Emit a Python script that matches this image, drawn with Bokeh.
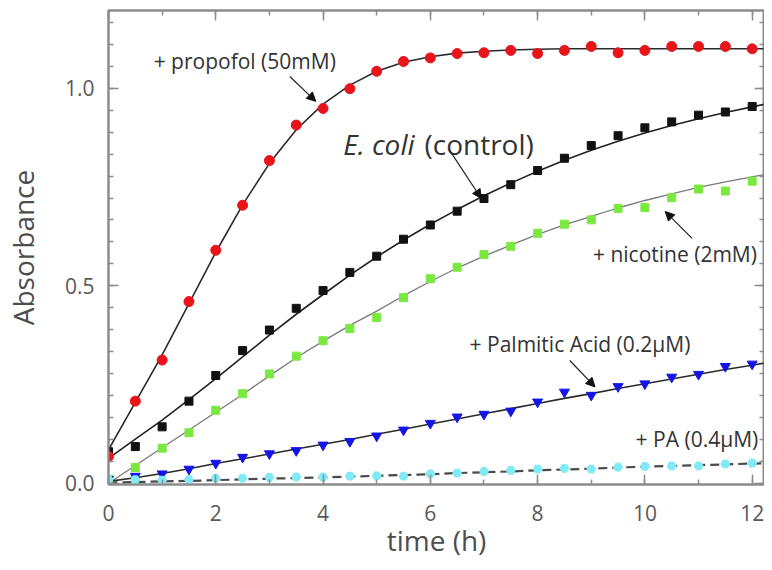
from bokeh.plotting import figure
from bokeh.models import (Range1d, LinearAxis, SingleIntervalTicker, PrintfTickFormatter,
                          CustomJSTickFormatter, Arrow, NormalHead, Label)
from bokeh.embed import file_html
from bokeh.resources import INLINE

# ---------------- data ----------------
time_h = [0, 0.5, 1, 1.5, 2, 2.5, 3, 3.5, 4, 4.5, 5, 5.5, 6, 6.5, 7, 7.5, 8, 8.5, 9, 9.5,
          10, 10.5, 11, 11.5, 12]

propofol = [0.068, 0.208, 0.312, 0.460, 0.590, 0.704, 0.817, 0.907, 0.949, 0.999, 1.043, 1.068,
            1.077, 1.088, 1.090, 1.096, 1.088, 1.096, 1.106, 1.090, 1.096, 1.106, 1.106, 1.106, 1.100]
control = [0.080, 0.093, 0.143, 0.208, 0.273, 0.336, 0.388, 0.443, 0.488, 0.534, 0.575, 0.618,
           0.654, 0.689, 0.721, 0.756, 0.792, 0.823, 0.855, 0.880, 0.900, 0.915, 0.932, 0.940, 0.954]
nicotine = [0.010, 0.040, 0.089, 0.128, 0.185, 0.227, 0.277, 0.322, 0.361, 0.392, 0.420, 0.470,
            0.518, 0.547, 0.579, 0.600, 0.633, 0.656, 0.667, 0.696, 0.698, 0.723, 0.745, 0.740, 0.765]
palmitic_02 = [0.010, 0.018, 0.024, 0.036, 0.051, 0.066, 0.075, 0.083, 0.097, 0.106, 0.120, 0.135,
               0.152, 0.168, 0.175, 0.183, 0.206, 0.231, 0.223, 0.245, 0.252, 0.269, 0.276, 0.296, 0.302]
pa_04 = [0.010, 0.009, 0.008, 0.009, 0.013, 0.013, 0.015, 0.016, 0.016, 0.018, 0.019, 0.018,
         0.024, 0.026, 0.030, 0.033, 0.036, 0.038, 0.036, 0.041, 0.043, 0.044, 0.044, 0.049, 0.051]

# fitted curves
fit_t = [0, 0.5, 1, 1.5, 2, 2.5, 3, 3.5, 4, 4.5, 5, 5.5, 6, 6.5, 7, 7.5, 8, 8.5, 9, 9.5,
         10, 10.5, 11, 11.5, 12, 12.25]
fit_propofol = [0.085, 0.205, 0.325, 0.455, 0.585, 0.705, 0.810, 0.895, 0.960, 1.008, 1.043, 1.066,
                1.080, 1.089, 1.094, 1.097, 1.099, 1.100, 1.100, 1.100, 1.100, 1.100, 1.100, 1.100,
                1.100, 1.100]
fit_control = [0.063, 0.112, 0.160, 0.212, 0.265, 0.320, 0.375, 0.428, 0.478, 0.527, 0.573, 0.616,
               0.656, 0.693, 0.728, 0.760, 0.790, 0.818, 0.843, 0.866, 0.887, 0.906, 0.923, 0.939,
               0.953, 0.960]
fit_nicotine = [0.000, 0.045, 0.090, 0.135, 0.180, 0.225, 0.272, 0.318, 0.360, 0.400, 0.436, 0.475,
                0.511, 0.545, 0.575, 0.603, 0.630, 0.654, 0.676, 0.697, 0.716, 0.733, 0.749, 0.763,
                0.776, 0.782]
fit_palmitic_02 = [0.005, 0.014, 0.025, 0.037, 0.050, 0.062, 0.074, 0.087, 0.099, 0.111, 0.124,
                   0.137, 0.150, 0.163, 0.176, 0.189, 0.202, 0.215, 0.227, 0.240, 0.252, 0.264,
                   0.276, 0.288, 0.299, 0.305]
fit_pa_04 = [0.002, 0.003, 0.005, 0.006, 0.008, 0.010, 0.012, 0.013, 0.015, 0.017, 0.019, 0.021,
             0.023, 0.026, 0.028, 0.030, 0.033, 0.035, 0.037, 0.040, 0.042, 0.044, 0.046, 0.048,
             0.050, 0.051]

x_label = "time (h)"
y_label = "Absorbance"

FONT = "Open Sans"
AXIS_GRAY = "#8c8c8c"
LABEL_GRAY = "#595959"
TITLE_GRAY = "#4d4d4d"
TEXT = "#333333"

p = figure(width=764, height=562, output_backend="svg", toolbar_location=None,
           x_range=Range1d(0, 12.23), y_range=Range1d(-0.003, 1.197),
           min_border_left=108, min_border_top=10, min_border_bottom=78, min_border_right=0,
           x_axis_label=x_label, y_axis_label=y_label)
p.grid.visible = False
p.outline_line_color = AXIS_GRAY
p.outline_line_width = 2
p.background_fill_color = "white"
p.border_fill_color = "white"

p.xaxis.ticker = SingleIntervalTicker(interval=2, num_minor_ticks=2)
p.yaxis.ticker = SingleIntervalTicker(interval=0.5, num_minor_ticks=9)
p.yaxis.formatter = PrintfTickFormatter(format="%.1f")


def style_axis(ax, labels=True):
    ax.axis_line_color = AXIS_GRAY
    ax.axis_line_width = 2
    ax.major_tick_line_color = AXIS_GRAY
    ax.minor_tick_line_color = AXIS_GRAY
    ax.major_tick_line_width = 1.5
    ax.minor_tick_line_width = 1.5
    ax.major_tick_in = 10
    ax.major_tick_out = 0
    ax.minor_tick_in = 5
    ax.minor_tick_out = 0
    if labels:
        ax.major_label_text_font = FONT
        ax.major_label_text_font_size = "21px"
        ax.major_label_text_color = LABEL_GRAY
        ax.axis_label_text_font = FONT
        ax.axis_label_text_font_size = "28px"
        ax.axis_label_text_font_style = "normal"
        ax.axis_label_text_color = TITLE_GRAY
    else:
        ax.formatter = CustomJSTickFormatter(code="return ''")
        ax.major_label_text_font_size = "1px"
        ax.major_label_standoff = 0


for ax in p.xaxis:
    style_axis(ax)
    ax.major_label_standoff = 20
    ax.axis_label_standoff = -3
for ax in p.yaxis:
    style_axis(ax)
    ax.major_label_standoff = 14
    ax.axis_label_standoff = 20

top = LinearAxis(ticker=SingleIntervalTicker(interval=2, num_minor_ticks=2))
style_axis(top, labels=False)
p.add_layout(top, "above")
right = LinearAxis(ticker=SingleIntervalTicker(interval=0.5, num_minor_ticks=9))
style_axis(right, labels=False)
p.add_layout(right, "right")

# fitted lines
p.line(fit_t, fit_nicotine, line_color="#7a7a7a", line_width=1.3)
p.line(fit_t, fit_control, line_color="#222222", line_width=1.6)
p.line(fit_t, fit_propofol, line_color="#2b2b2b", line_width=1.6)
p.line(fit_t, fit_palmitic_02, line_color="#2b2b2b", line_width=1.6)
p.line(fit_t, fit_pa_04, line_color="#4a4a4a", line_width=2.2, line_dash="9 5")

# data points
p.scatter(time_h, nicotine, marker="square", size=8, fill_color="#7be841", line_color="#7be841")
p.scatter(time_h, control, marker="square", size=8, fill_color="#111111", line_color="#111111")
p.scatter(time_h, propofol, marker="circle", size=10, fill_color="#e8141a", line_color="#e8141a")
p.scatter(time_h, palmitic_02, marker="inverted_triangle", size=10, fill_color="#1414e6",
          line_color="#1414e6")
p.scatter(time_h, pa_04, marker="hex", size=9, fill_color="#80eaf5", line_color="#80eaf5")


# annotations
def lab(x, y, txt, size="21px", align="center", style="normal"):
    p.add_layout(Label(x=x, y=y, text=txt, text_font=FONT, text_font_size=size,
                       text_color=TEXT, text_align=align, text_baseline="middle",
                       text_font_style=style))


lab(2.54, 1.068, "+ propofol (50mM)")
lab(5.04, 0.859, "E. coli", size="28px", style="italic")
lab(6.91, 0.859, "(control)", size="28px")
lab(10.56, 0.580, "+ nicotine (2mM)")
lab(8.79, 0.352, "+ Palmitic Acid (0.2μM)")
lab(10.97, 0.112, "+ PA (0.4μM)")


def arrow(x0, y0, x1, y1):
    p.add_layout(Arrow(end=NormalHead(size=9, fill_color="#111111", line_color="#111111",
                                      line_width=1),
                       x_start=x0, y_start=y0, x_end=x1, y_end=y1,
                       line_color="#222222", line_width=1.2))


arrow(3.38, 1.030, 3.865, 0.967)
arrow(6.36, 0.843, 6.95, 0.721)
arrow(10.88, 0.620, 10.38, 0.688)
arrow(8.60, 0.311, 9.07, 0.244)

open("out.html", "w").write(file_html(p, INLINE))
